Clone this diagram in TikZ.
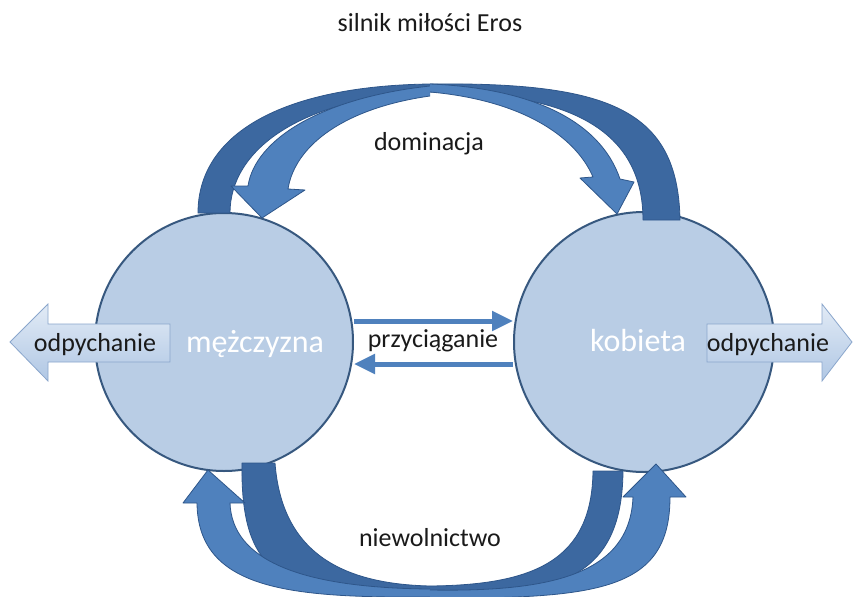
\documentclass[tikz,border=0pt]{standalone}
\usepackage{fontspec}
\setmainfont{Carlito}
\usetikzlibrary{arrows.meta}
\definecolor{circfill}{HTML}{B9CDE5}
\definecolor{circline}{HTML}{37587F}
\definecolor{bandlight}{HTML}{4F81BD}
\definecolor{banddark}{HTML}{3C68A0}
\definecolor{bandline}{HTML}{2E568A}
\definecolor{boxtop}{HTML}{E2EBF6}
\definecolor{boxbot}{HTML}{B0C7E4}
\definecolor{boxline}{HTML}{8AA6CC}
\definecolor{txt}{HTML}{1A1A1A}
\begin{document}
\begin{tikzpicture}[x=1pt,y=-1pt,
  lightband/.style={fill=bandlight},
  darkband/.style={fill=banddark},
  bandedge/.style={draw=bandline, line width=0.8pt, line join=round},
  person/.style={circle, fill=circfill, draw=circline, line width=2pt, inner sep=0pt},
  lbl/.style={font=\fontsize{26}{30}\selectfont, text=txt, anchor=base},
  whotext/.style={font=\fontsize{32}{36}\selectfont, text=white, anchor=base},
  pushbox/.style={top color=boxtop, bottom color=boxbot, draw=boxline, line width=0.8pt},
  pullarrow/.style={line width=5pt, draw=bandlight, -{Triangle[length=21pt,width=19pt]}}]
\useasboundingbox (0,0) rectangle (855,597);
\fill[white] (0,0) rectangle (855,597);

% persons
\node[person, minimum size=258pt] (m) at (224,342) {};
\node[person, minimum size=260pt] (k) at (644,342) {};

% top curved arrows: dark tails
\path[darkband] (198,213) .. controls (198,135) and (280,86) .. (430,84) -- (430,92) .. controls (300,98) and (230,150) .. (230,213) -- cycle;
\path[bandedge] (430,92) .. controls (300,98) and (230,150) .. (230,213) -- (198,213) .. controls (198,135) and (280,86) .. (430,84);
\path[darkband] (680,220) .. controls (678,110) and (610,82) .. (430,84) -- (430,92) .. controls (570,92) and (643,130) .. (643,220) -- cycle;
\path[bandedge] (430,84) .. controls (610,82) and (678,110) .. (680,220) -- (643,220) .. controls (643,130) and (570,92) .. (430,92);
% top curved arrows: light heads
\path[lightband] (305,190) -- (288,189) .. controls (295,145) and (345,108) .. (430,96) -- (430,86) .. controls (320,98) and (255,140) .. (248,186) -- (231,186) -- (262,218) -- cycle;
\path[bandedge] (430,86) .. controls (320,98) and (255,140) .. (248,186) -- (231,186) -- (262,218) -- (305,190) -- (288,189) .. controls (295,145) and (345,108) .. (430,96);
\path[lightband] (580,178) -- (593,177) .. controls (575,135) and (520,100) .. (430,92) -- (430,84) .. controls (530,88) and (600,120) .. (620,179) -- (634,182) -- (617,214) -- cycle;
\path[bandedge] (430,84) .. controls (530,88) and (600,120) .. (620,179) -- (634,182) -- (617,214) -- (580,178) -- (593,177) .. controls (575,135) and (520,100) .. (430,92);

% bottom curved arrows: dark tails
\path[darkband] (242,463) .. controls (240,585) and (290,596) .. (430,596) -- (430,586) .. controls (345,584) and (282,555) .. (275,463) -- cycle;
\path[bandedge] (430,596) .. controls (290,596) and (240,585) .. (242,463) -- (275,463) .. controls (282,555) and (345,584) .. (430,586);
\path[darkband] (623,471) .. controls (622,585) and (550,596) .. (430,594) -- (430,586) .. controls (535,585) and (592,560) .. (593,471) -- cycle;
\path[bandedge] (430,594) .. controls (550,596) and (622,585) .. (623,471) -- (593,471) .. controls (592,560) and (535,585) .. (430,586);
% bottom curved arrows: light heads
\path[lightband] (183,503) -- (197,503) .. controls (198,590) and (290,598) .. (430,597) -- (430,589) .. controls (300,588) and (232,560) .. (230,503) -- (245,503) -- (208,470) -- cycle;
\path[bandedge] (430,597) .. controls (290,598) and (198,590) .. (197,503) -- (183,503) -- (208,470) -- (245,503) -- (230,503) .. controls (232,560) and (300,588) .. (430,589);
\path[lightband] (623,497) -- (633,497) .. controls (630,575) and (550,592) .. (430,590) -- (430,598) .. controls (600,599) and (670,590) .. (670,497) -- (686,497) -- (656,464) -- cycle;
\path[bandedge] (430,590) .. controls (550,592) and (630,575) .. (633,497) -- (623,497) -- (656,464) -- (686,497) -- (670,497) .. controls (670,590) and (600,599) .. (430,598);

% attraction arrows
\draw[pullarrow] ([yshift=21pt]m.east) -- ([yshift=21pt]k.west);
\draw[pullarrow] ([yshift=-22pt]k.west) -- ([yshift=-22pt]m.east);

% repulsion arrows
\path[pushbox] (10,342) -- (48,304) -- (48,324) -- (170,324) -- (170,362) -- (48,362) -- (48,381) -- cycle;
\path[pushbox] (852,342) -- (822,304) -- (822,324) -- (707,324) -- (707,362) -- (822,362) -- (822,381) -- cycle;

% texts
\node[lbl] (title) at (430,31) {silnik miłości Eros};
\node[lbl] (dom) at (429,150) {dominacja};
\node[lbl] (niew) at (430,546) {niewolnictwo};
\node[lbl] (przy) at (433,347) {przyciąganie};
\node[whotext] (mt) at (255,352) {mężczyzna};
\node[whotext] (kt) at (638,351) {kobieta};
\node[lbl] (ol) at (95,351) {odpychanie};
\node[lbl] (or) at (768,351) {odpychanie};
\end{tikzpicture}
\end{document}
